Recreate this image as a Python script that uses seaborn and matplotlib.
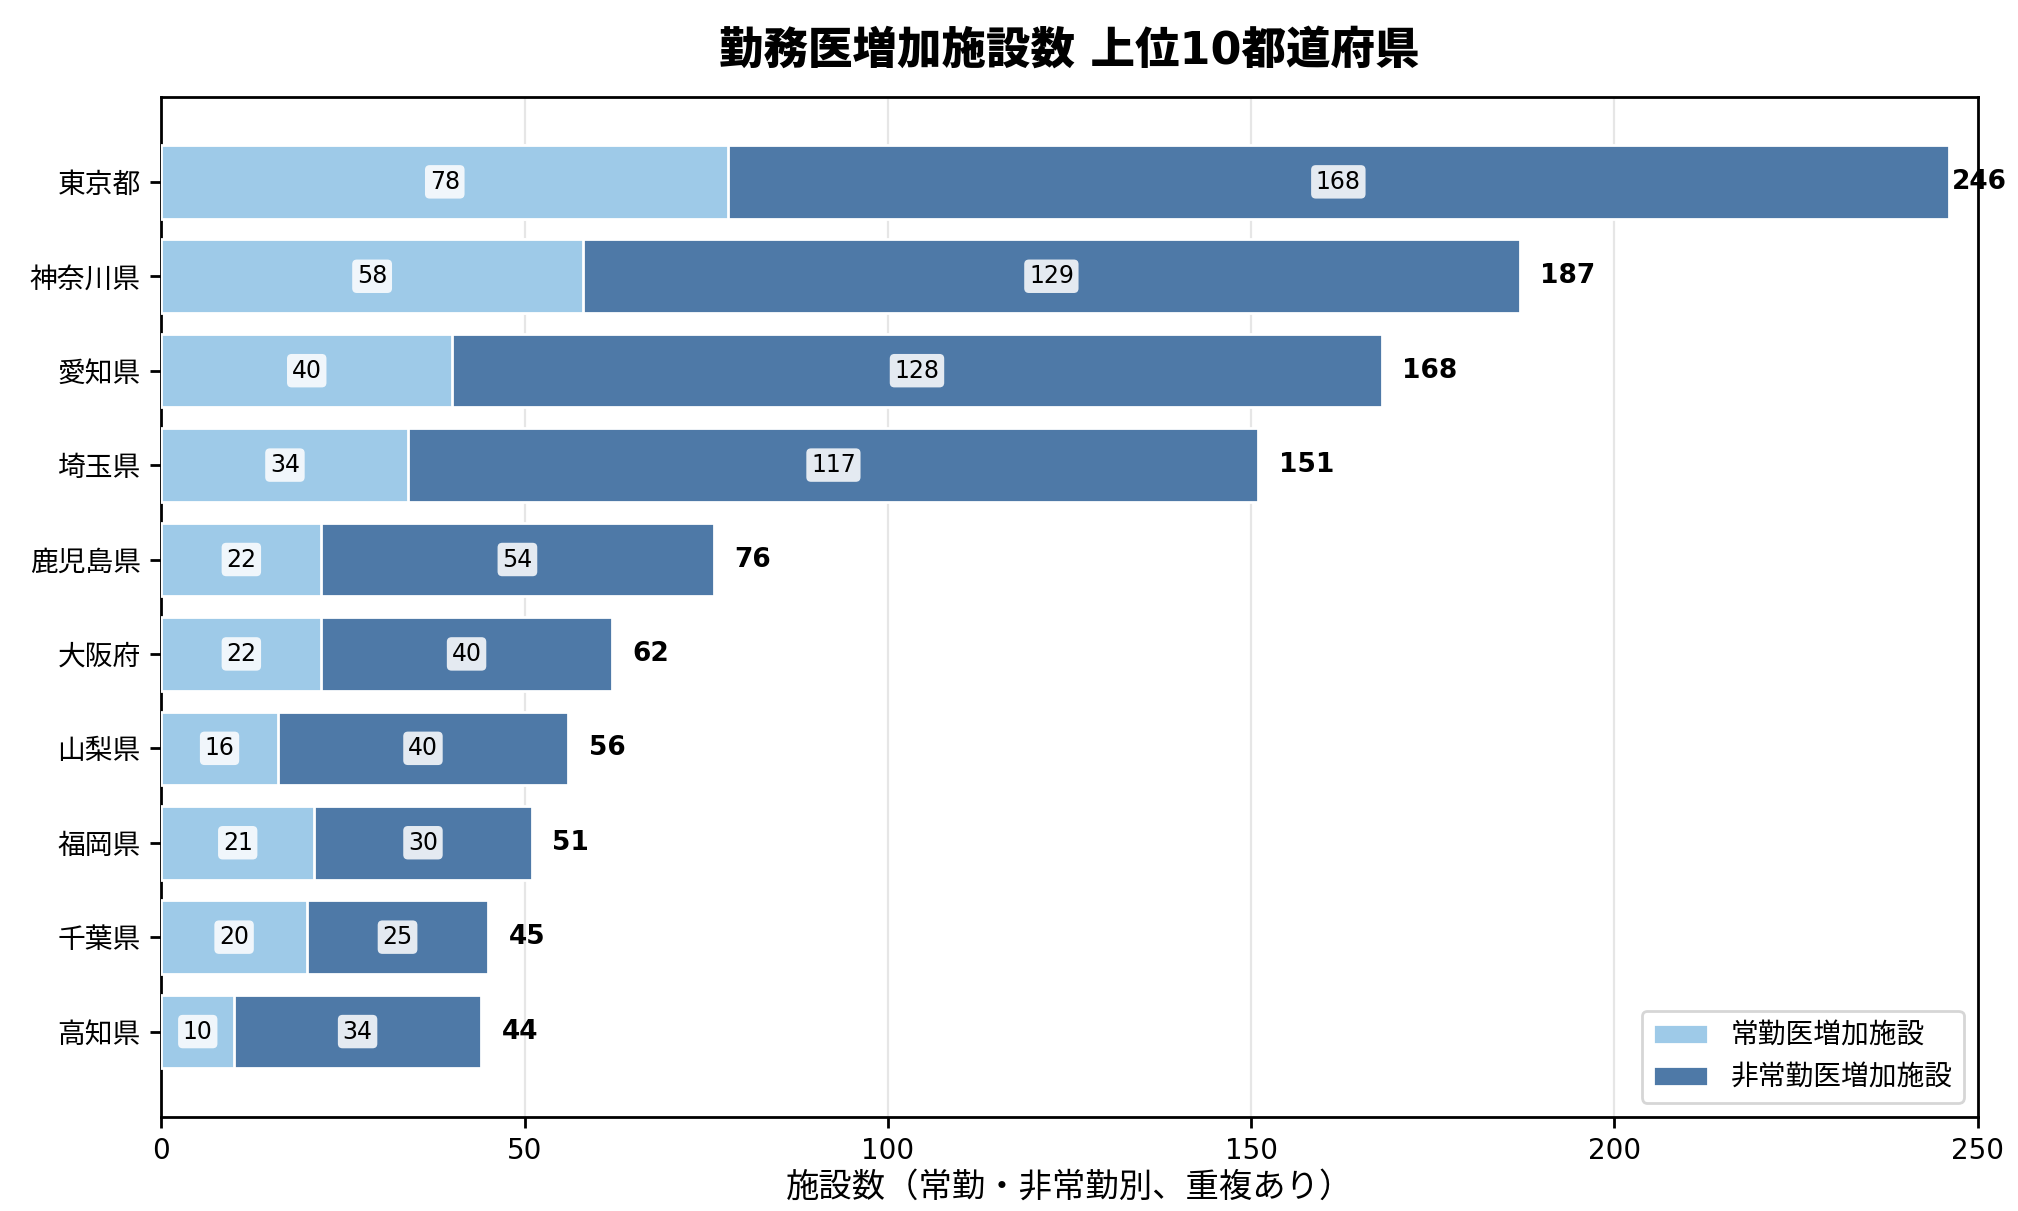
import pandas as pd
import matplotlib
matplotlib.use("Agg")
import matplotlib.pyplot as plt
import seaborn as sns

# data
prefectures = ["東京都", "神奈川県", "愛知県", "埼玉県", "鹿児島県", "大阪府", "山梨県", "福岡県", "千葉県", "高知県"]
full_time = [78, 58, 40, 34, 22, 22, 16, 21, 20, 10]
part_time = [168, 129, 128, 117, 54, 40, 40, 30, 25, 34]

df = pd.DataFrame({"pref": prefectures, "full": full_time, "part": part_time})
df["total"] = df["full"] + df["part"]

sns.set_style("white")
plt.rcParams["font.family"] = ["DejaVu Sans", "Noto Sans CJK JP"]
plt.rcParams["text.color"] = "black"
plt.rcParams["axes.labelcolor"] = "black"
plt.rcParams["xtick.color"] = "black"
plt.rcParams["ytick.color"] = "black"

light = "#9ecae8"
dark = "#4e79a7"

fig, ax = plt.subplots(figsize=(10.09, 6.055), dpi=200)
fig.subplots_adjust(left=0.08, right=0.98, top=0.92, bottom=0.078)

# dark bar spans whole total, light bar drawn on top -> stacked look
sns.barplot(data=df, y="pref", x="total", color=dark, saturation=1, width=0.78,
            edgecolor="white", linewidth=1, label="非常勤医増加施設", ax=ax, zorder=2)
sns.barplot(data=df, y="pref", x="full", color=light, saturation=1, width=0.78,
            edgecolor="white", linewidth=1, label="常勤医増加施設", ax=ax, zorder=3)

box = dict(boxstyle="round,pad=0.2", facecolor="white", edgecolor="none", alpha=0.85)
for i, row in df.iterrows():
    ax.text(row["full"] / 2, i, str(row["full"]), ha="center", va="center",
            fontsize=8.5, bbox=box, zorder=5)
    ax.text(row["full"] + row["part"] / 2, i, str(row["part"]), ha="center", va="center",
            fontsize=8.5, bbox=box, zorder=5)
    ax.text(min(row["total"] + 2.8, 246.5), i, str(row["total"]), ha="left", va="center",
            fontsize=9.5, fontweight="bold", zorder=5)

ax.set_xlim(0, 250)
ax.set_ylim(9.9, -0.9)
ax.xaxis.grid(True, color="#e6e6e6", linewidth=0.8, zorder=0)
ax.set_axisbelow(True)
for s in ax.spines.values():
    s.set_color("black")
    s.set_linewidth(1)
ax.tick_params(axis="both", which="both", length=4, width=1, color="black", left=True, bottom=True,
               labelsize=10)
ax.set_ylabel("")
ax.set_xlabel("施設数（常勤・非常勤別、重複あり）", fontsize=12, labelpad=2)
ax.set_title("勤務医増加施設数 上位10都道府県", fontsize=16, fontweight="heavy", pad=12)

handles, labels = ax.get_legend_handles_labels()
order = [labels.index("常勤医増加施設"), labels.index("非常勤医増加施設")]
ax.legend([handles[k] for k in order], [labels[k] for k in order], loc="lower right",
          fontsize=10, frameon=True)

plt.savefig("out.png", dpi=200)
plt.close()
